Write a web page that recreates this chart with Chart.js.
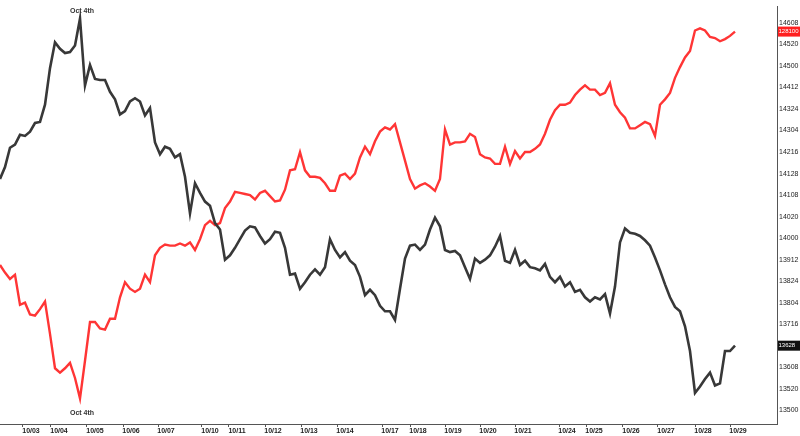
<!DOCTYPE html>
<html>
<head>
<meta charset="utf-8">
<script src="https://cdn.jsdelivr.net/npm/chart.js@4.4.1/dist/chart.umd.min.js"></script>
<style>
  html, body { margin: 0; padding: 0; background: #fff; }
  #wrap { width: 800px; height: 436px; position: relative; }
</style>
</head>
<body>
<div id="wrap"><canvas id="chart"></canvas></div>
<script>
// prices in 32nds (e.g. 146'08 = 146*32+8), one bar per sampling slot
const blackVals = [
  4535, 4546, 4564, 4567, 4576, 4575, 4579, 4587, 4588, 4604,
  4638, 4662, 4656, 4652, 4653, 4659, 4684, 4622, 4641, 4628,
  4627, 4627, 4616, 4609, 4595, 4598, 4607, 4610, 4607, 4594,
  4601, 4569, 4558, 4565, 4563, 4555, 4558, 4537, 4503, 4531,
  4522, 4514, 4510, 4494, 4488, 4460, 4464, 4471, 4479, 4487,
  4491, 4490, 4482, 4475, 4479, 4486, 4485, 4471, 4446, 4447,
  4433, 4439, 4446, 4451, 4446, 4453, 4479, 4469, 4462, 4467,
  4459, 4455, 4444, 4427, 4432, 4427, 4417, 4412, 4412, 4404,
  4433, 4461, 4473, 4474, 4469, 4474, 4488, 4499, 4491, 4469,
  4467, 4468, 4464, 4453, 4442, 4461, 4457, 4460, 4464, 4472,
  4482, 4459, 4457, 4469, 4455, 4459, 4453, 4452, 4450, 4456,
  4444, 4439, 4444, 4435, 4439, 4430, 4432, 4425, 4421, 4425,
  4423, 4428, 4410, 4435, 4476, 4489, 4485, 4484, 4482, 4478,
  4473, 4462, 4450, 4437, 4425, 4416, 4412, 4398, 4375, 4336,
  4342, 4349, 4355, 4343, 4345, 4375, 4375, 4380
];

const redVals = [
  4455, 4448, 4442, 4446, 4418, 4420, 4409, 4408, 4414, 4421,
  4391, 4359, 4355, 4359, 4364, 4350, 4331, 4366, 4402, 4402,
  4396, 4395, 4405, 4405, 4425, 4439, 4433, 4430, 4433, 4446,
  4439, 4464, 4471, 4474, 4473, 4473, 4475, 4473, 4476, 4469,
  4479, 4492, 4496, 4492, 4494, 4508, 4514, 4523, 4522, 4521,
  4520, 4516, 4522, 4524, 4519, 4514, 4515, 4525, 4543, 4544,
  4560, 4543, 4537, 4537, 4536, 4531, 4524, 4524, 4538, 4540,
  4535, 4540, 4555, 4565, 4558, 4570, 4579, 4583, 4581, 4586,
  4569, 4552, 4535, 4526, 4529, 4531, 4528, 4524, 4535, 4581,
  4567, 4569, 4569, 4570, 4577, 4574, 4558, 4555, 4554, 4549,
  4549, 4565, 4549, 4561, 4554, 4560, 4560, 4563, 4567, 4577,
  4590, 4599, 4604, 4604, 4606, 4613, 4618, 4622, 4618, 4618,
  4613, 4615, 4624, 4604, 4597, 4592, 4582, 4582, 4585, 4588,
  4586, 4575, 4604, 4609, 4615, 4629, 4639, 4648, 4654, 4673,
  4675, 4673, 4667, 4666, 4663, 4665, 4668, 4672
];
const redLastLabel = '128100';

// session starts (bar slot) and their date labels
const dayStarts = [4.6, 10.2, 17.4, 24.6, 31.6, 40.4, 45.8, 53, 60.2, 67.4, 76.4,
  82, 89, 96, 103, 111.8, 117.2, 124.6, 131.6, 139, 146];
const dayLabels = ['10/03', '10/04', '10/05', '10/06', '10/07', '10/10', '10/11', '10/12',
  '10/13', '10/14', '10/17', '10/18', '10/19', '10/20', '10/21', '10/24', '10/25',
  '10/26', '10/27', '10/28', '10/29'];

const priceTicks = [4680, 4660, 4640, 4620, 4600, 4580, 4560, 4540, 4520, 4500,
  4480, 4460, 4440, 4420, 4400, 4380, 4360, 4340, 4320];
const priceLabels = ['14608', '14520', '14500', '14412', '14324', '14304', '14216',
  '14128', '14108', '14020', '14000', '13912', '13824', '13804', '13716', '13628',
  '13608', '13520', '13500'];

const noteText = 'Oct 4th';
const peakIdx = 16; // bar of the Oct 4th extreme

function fmt32(v) {
  const whole = Math.floor(v / 32);
  const frac = Math.round(v - whole * 32);
  return String(whole) + String(frac).padStart(2, '0');
}

const extras = {
  id: 'extras',
  afterDatasetsDraw(chart) {
    const { ctx, chartArea } = chart;
    const x = chart.scales.x, y = chart.scales.y;
    ctx.save();
    // Oct 4th notes
    ctx.font = 'bold 7px "Liberation Sans", Arial, sans-serif';
    ctx.fillStyle = '#333';
    ctx.textAlign = 'center';
    ctx.textBaseline = 'middle';
    const px = x.getPixelForValue(peakIdx);
    ctx.fillText(noteText, px + 2, y.getPixelForValue(blackVals[peakIdx]) - 8);
    ctx.fillText(noteText, px + 2, y.getPixelForValue(redVals[peakIdx]) + 15);

    // last value boxes on the right axis
    const boxes = [
      { v: redVals[redVals.length - 1], text: redLastLabel, bg: '#ff2020' },
      { v: blackVals[blackVals.length - 1], text: fmt32(blackVals[blackVals.length - 1]), bg: '#111' }
    ];
    ctx.textAlign = 'left';
    ctx.font = '6px "Liberation Sans", Arial, sans-serif';
    boxes.forEach(b => {
      const py = y.getPixelForValue(b.v);
      ctx.fillStyle = b.bg;
      ctx.fillRect(chartArea.right + 1, py - 5, 23, 10);
      ctx.fillStyle = '#fff';
      ctx.fillText(b.text, chartArea.right + 1.5, py);
    });
    ctx.restore();
  }
};

new Chart(document.getElementById('chart'), {
  type: 'line',
  data: {
    datasets: [
      {
        label: 'black',
        data: blackVals.map((v, i) => ({ x: i, y: v })),
        borderColor: '#383838',
        borderWidth: 2.6,
        pointRadius: 0,
        tension: 0
      },
      {
        label: 'red',
        data: redVals.map((v, i) => ({ x: i, y: v })),
        borderColor: '#ff3535',
        borderWidth: 2.4,
        pointRadius: 0,
        tension: 0
      }
    ]
  },
  options: {
    responsive: true,
    maintainAspectRatio: false,
    animation: false,
    layout: { padding: 0 },
    plugins: { legend: { display: false }, tooltip: { enabled: false } },
    scales: {
      x: {
        type: 'linear',
        min: 0,
        max: 155.4,
        afterBuildTicks: s => { s.ticks = dayStarts.map(v => ({ value: v })); },
        afterFit: s => { s.height = 12; },
        ticks: {
          autoSkip: false,
          maxRotation: 0,
          padding: 0,
          labelOffset: 8,
          color: '#222',
          font: { family: '"Liberation Sans", Arial, sans-serif', size: 7, weight: 'bold' },
          callback: (v, i) => dayLabels[i]
        },
        grid: { drawOnChartArea: false, tickLength: 3, color: '#555' },
        border: { display: true, color: '#555' }
      },
      y: {
        position: 'right',
        min: 4307.2,
        max: 4695.6,
        afterBuildTicks: s => { s.ticks = priceTicks.map(v => ({ value: v })); },
        afterFit: s => { s.width = 23; },
        ticks: {
          autoSkip: false,
          padding: 2,
          color: '#222',
          font: { family: '"Liberation Sans", Arial, sans-serif', size: 7 },
          callback: (v, i) => priceLabels[i]
        },
        grid: { display: false, drawTicks: false },
        border: { display: true, color: '#555' }
      }
    }
  },
  plugins: [extras]
});
</script>
</body>
</html>
